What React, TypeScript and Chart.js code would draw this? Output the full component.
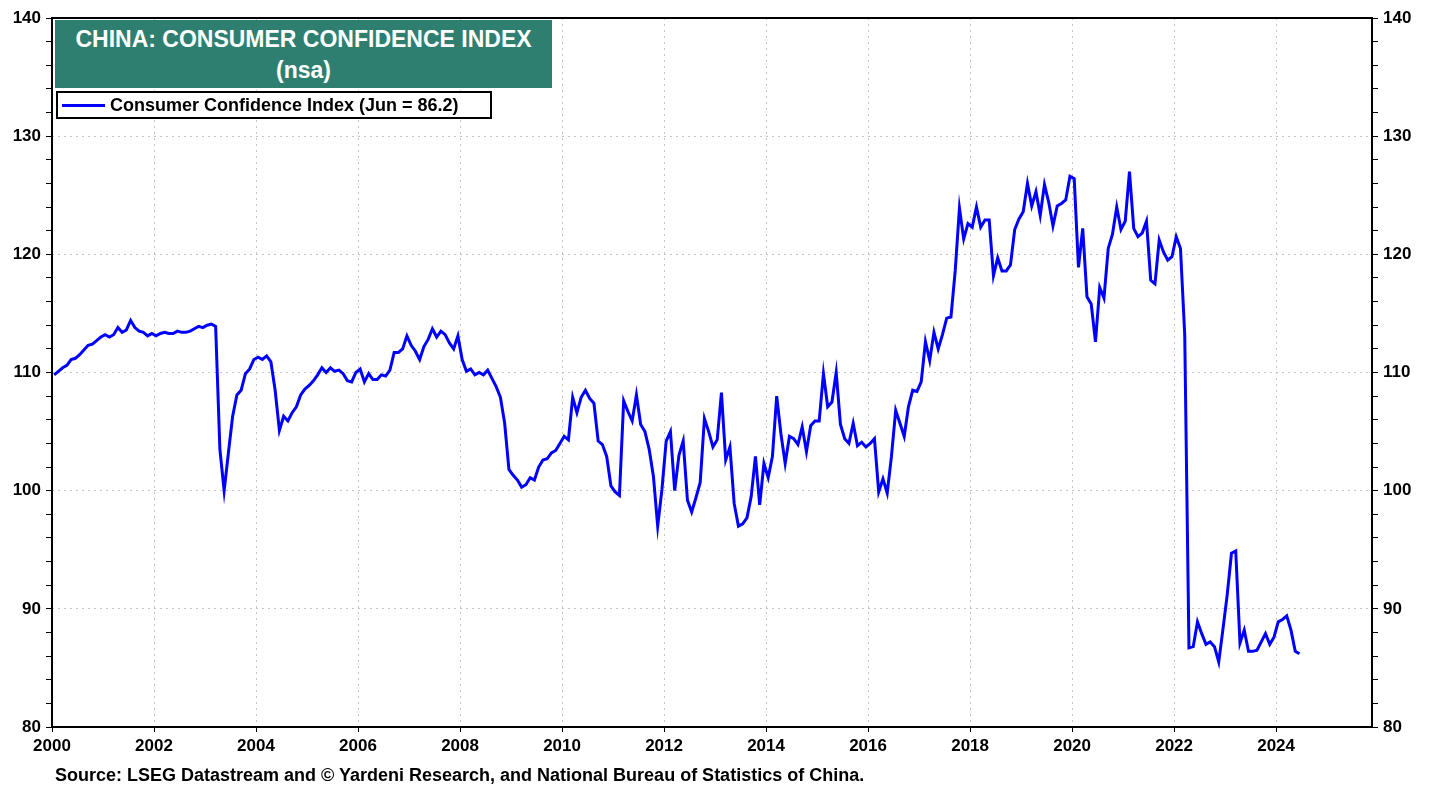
import React, { useEffect, useRef } from "react";
import { Chart, registerables } from "chart.js";

Chart.register(...registerables);

// ---- Data: China Consumer Confidence Index (nsa), monthly ----
const START_YEAR = 2000;
const cci2000 = [109.8, 110.1, 110.4, 110.6, 111.1, 111.2, 111.5, 111.9, 112.3, 112.4, 112.7, 113.0];
const cci2001 = [113.2, 113.0, 113.2, 113.8, 113.4, 113.6, 114.4, 113.8, 113.5, 113.4, 113.1, 113.3];
const cci2002 = [113.1, 113.3, 113.4, 113.3, 113.3, 113.5, 113.4, 113.4, 113.5, 113.7, 113.9, 113.8];
const cci2003 = [114.0, 114.1, 113.9, 103.5, 100.0, 103.2, 106.3, 108.1, 108.5, 109.9, 110.3, 111.1];
const cci2004 = [111.3, 111.1, 111.4, 110.9, 108.5, 105.1, 106.3, 105.9, 106.6, 107.1, 108.1, 108.6];
const cci2005 = [108.9, 109.3, 109.8, 110.4, 110.0, 110.4, 110.1, 110.2, 109.9, 109.3, 109.2, 110.0];
const cci2006 = [110.3, 109.2, 109.9, 109.4, 109.4, 109.8, 109.7, 110.2, 111.7, 111.7, 112.0, 113.1];
const cci2007 = [112.3, 111.8, 111.1, 112.2, 112.8, 113.7, 113.0, 113.5, 113.2, 112.5, 112.0, 113.1];
const cci2008 = [111.1, 110.1, 110.3, 109.8, 110.0, 109.8, 110.2, 109.5, 108.8, 107.9, 105.7, 101.8];
const cci2009 = [101.3, 100.9, 100.3, 100.5, 101.1, 100.9, 102.0, 102.6, 102.7, 103.2, 103.4, 104.0];
const cci2010 = [104.6, 104.3, 107.9, 106.6, 107.9, 108.5, 107.8, 107.4, 104.2, 103.9, 102.9, 100.4];
const cci2011 = [99.9, 99.6, 107.6, 106.7, 105.9, 108.1, 105.6, 105.0, 103.5, 101.2, 97.0, 100.1];
const cci2012 = [104.2, 105.0, 100.0, 103.0, 104.2, 99.2, 98.2, 99.4, 100.7, 106.1, 105.0, 103.7];
const cci2013 = [104.3, 108.3, 102.6, 103.7, 98.9, 97.0, 97.2, 97.7, 99.5, 102.9, 98.8, 102.3];
const cci2014 = [101.1, 102.9, 108.0, 104.8, 102.3, 104.6, 104.4, 103.9, 105.4, 103.3, 105.5, 105.9];
const cci2015 = [105.9, 109.9, 107.1, 107.5, 110.0, 105.6, 104.4, 104.0, 105.7, 103.8, 104.1, 103.7];
const cci2016 = [104.0, 104.4, 99.9, 101.0, 99.8, 102.9, 106.8, 105.7, 104.6, 107.1, 108.5, 108.4];
const cci2017 = [109.2, 112.6, 111.0, 113.4, 112.0, 113.2, 114.6, 114.7, 118.6, 123.9, 121.3, 122.6];
const cci2018 = [122.3, 124.0, 122.3, 122.9, 122.9, 118.2, 119.7, 118.6, 118.6, 119.1, 122.1, 123.0];
const cci2019 = [123.6, 126.0, 124.1, 125.3, 123.3, 125.9, 124.4, 122.4, 124.1, 124.3, 124.6, 126.6];
const cci2020 = [126.4, 118.9, 122.2, 116.4, 115.8, 112.6, 117.2, 116.3, 120.5, 121.7, 124.0, 122.1];
const cci2021 = [122.8, 127.0, 122.2, 121.5, 121.8, 122.8, 117.8, 117.5, 121.2, 120.2, 119.5, 119.8];
const cci2022 = [121.5, 120.5, 113.2, 86.7, 86.8, 88.9, 87.9, 87.0, 87.2, 86.8, 85.5, 88.3];
const cci2023 = [91.2, 94.7, 94.9, 87.1, 88.2, 86.4, 86.4, 86.5, 87.2, 87.9, 87.0, 87.6];
const cci2024 = [88.9, 89.1, 89.4, 88.2, 86.4, 86.2];

const yearlyValues = [
  cci2000, cci2001, cci2002, cci2003, cci2004, cci2005, cci2006, cci2007, cci2008,
  cci2009, cci2010, cci2011, cci2012, cci2013, cci2014, cci2015, cci2016, cci2017,
  cci2018, cci2019, cci2020, cci2021, cci2022, cci2023, cci2024,
];

const xTickYears = [2000, 2002, 2004, 2006, 2008, 2010, 2012, 2014, 2016, 2018, 2020, 2022, 2024];
const X_MIN = 2000;
const X_MAX = 2025.88;
const Y_MIN = 80;
const Y_MAX = 140;

const TITLE_LINE_1 = "CHINA: CONSUMER CONFIDENCE INDEX";
const TITLE_LINE_2 = "(nsa)";
const LEGEND_LABEL = "Consumer Confidence Index (Jun = 86.2)";
const SOURCE_TEXT =
  "Source: LSEG Datastream and \u00A9 Yardeni Research, and National Bureau of Statistics of China.";

const FONT = 'Arial, "Liberation Sans", Helvetica, sans-serif';
const LINE_BLUE = "#0000FF";
const TITLE_GREEN = "#2E7F70";

function buildPoints() {
  const pts: { x: number; y: number }[] = [];
  yearlyValues.forEach((vals, yi) => {
    vals.forEach((v, mi) => {
      pts.push({ x: START_YEAR + yi + (mi + 0.5) / 12, y: v });
    });
  });
  return pts;
}

const frameBorder = {
  id: "frameBorder",
  afterDatasetsDraw(chart: any) {
    const { ctx, chartArea } = chart;
    ctx.save();
    ctx.strokeStyle = "#000";
    ctx.lineWidth = 2;
    ctx.strokeRect(chartArea.left, chartArea.top, chartArea.right - chartArea.left, chartArea.bottom - chartArea.top);
    ctx.restore();
  },
};

export default function App() {
  const canvasRef = useRef<HTMLCanvasElement | null>(null);

  useEffect(() => {
    document.body.style.margin = "0";
    const canvas = canvasRef.current;
    if (!canvas) return;
    const tickFont = { family: FONT, size: 17, weight: "bold" as const };
    const gridColorY = (c: any) => {
      const v = c.tick ? c.tick.value : null;
      if (v === null) return "rgba(0,0,0,0)";
      if (v % 10 === 0 && v > Y_MIN && v < Y_MAX) return "#c4c4c4";
      return "rgba(0,0,0,0)";
    };
    const chart = new Chart(canvas, {
      type: "line",
      data: {
        datasets: [
          {
            label: LEGEND_LABEL,
            data: buildPoints(),
            borderColor: LINE_BLUE,
            backgroundColor: LINE_BLUE,
            borderWidth: 3,
            pointRadius: 0,
            tension: 0,
            yAxisID: "y",
          },
        ],
      },
      options: {
        responsive: false,
        animation: false,
        devicePixelRatio: 1,
        layout: { padding: { top: 18, left: 0, right: 0, bottom: 0 } },
        plugins: {
          legend: { display: false },
          tooltip: { enabled: false },
          title: { display: false },
        },
        scales: {
          x: {
            type: "linear",
            position: "bottom",
            min: X_MIN,
            max: X_MAX,
            afterBuildTicks: (s: any) => {
              s.ticks = xTickYears.map((v) => ({ value: v }));
            },
            afterFit: (s: any) => {
              s.height = 60;
            },
            ticks: {
              callback: (v: any) => String(v),
              font: tickFont,
              color: "#000",
              padding: 4,
              maxRotation: 0,
              autoSkip: false,
            },
            grid: {
              color: (c: any) => (c.tick && c.tick.value > X_MIN ? "#c4c4c4" : "rgba(0,0,0,0)"),
              lineWidth: 1,
              tickColor: "#000",
              tickLength: 5,
              drawTicks: true,
            },
            border: { display: false, dash: [2, 4] },
          },
          y: {
            type: "linear",
            position: "left",
            min: Y_MIN,
            max: Y_MAX,
            afterFit: (s: any) => {
              s.width = 52;
            },
            ticks: {
              stepSize: 2,
              callback: (v: any) => (Number(v) % 10 === 0 ? String(v) : ""),
              font: tickFont,
              color: "#000",
              padding: 5,
              autoSkip: false,
            },
            grid: {
              color: gridColorY,
              lineWidth: 1,
              tickColor: "#000",
              tickLength: 6,
            },
            border: { display: false, dash: [2, 4] },
          },
          y2: {
            type: "linear",
            position: "right",
            min: Y_MIN,
            max: Y_MAX,
            afterFit: (s: any) => {
              s.width = 69;
            },
            ticks: {
              stepSize: 2,
              callback: (v: any) => (Number(v) % 10 === 0 ? String(v) : ""),
              font: tickFont,
              color: "#000",
              padding: 5,
              autoSkip: false,
            },
            grid: {
              drawOnChartArea: false,
              tickColor: "#000",
              tickLength: 6,
            },
            border: { display: false },
          },
        },
      },
      plugins: [frameBorder],
    } as any);
    return () => {
      chart.destroy();
    };
  }, []);

  return (
    <div style={{ position: "absolute", left: 0, top: 0, width: 1441, height: 787, background: "#fff", overflow: "hidden" }}>
      <canvas ref={canvasRef} width={1441} height={787} style={{ position: "absolute", left: 0, top: 0 }} />
      <div
        style={{
          position: "absolute",
          left: 55,
          top: 20,
          width: 497,
          height: 68,
          background: TITLE_GREEN,
          color: "#fff",
          fontFamily: FONT,
          fontWeight: "bold",
          fontSize: 23,
          textAlign: "center",
          boxSizing: "border-box",
          paddingTop: 4,
        }}
      >
        <div style={{ height: 31, lineHeight: "31px" }}>{TITLE_LINE_1}</div>
        <div style={{ height: 31, lineHeight: "31px" }}>{TITLE_LINE_2}</div>
      </div>
      <div
        style={{
          position: "absolute",
          left: 56,
          top: 91,
          width: 436,
          height: 28,
          background: "#fff",
          border: "2px solid #000",
          boxSizing: "border-box",
          fontFamily: FONT,
          fontWeight: "bold",
          fontSize: 18,
          color: "#000",
        }}
      >
        <div style={{ position: "absolute", left: 4, top: 11, width: 43, height: 3, background: LINE_BLUE }} />
        <div style={{ position: "absolute", left: 52, top: 0, lineHeight: "24px", whiteSpace: "nowrap" }}>{LEGEND_LABEL}</div>
      </div>
      <div
        style={{
          position: "absolute",
          left: 55,
          top: 765,
          fontFamily: FONT,
          fontWeight: "bold",
          fontSize: 18,
          color: "#000",
          whiteSpace: "nowrap",
          lineHeight: "20px",
        }}
      >
        {SOURCE_TEXT}
      </div>
    </div>
  );
}
